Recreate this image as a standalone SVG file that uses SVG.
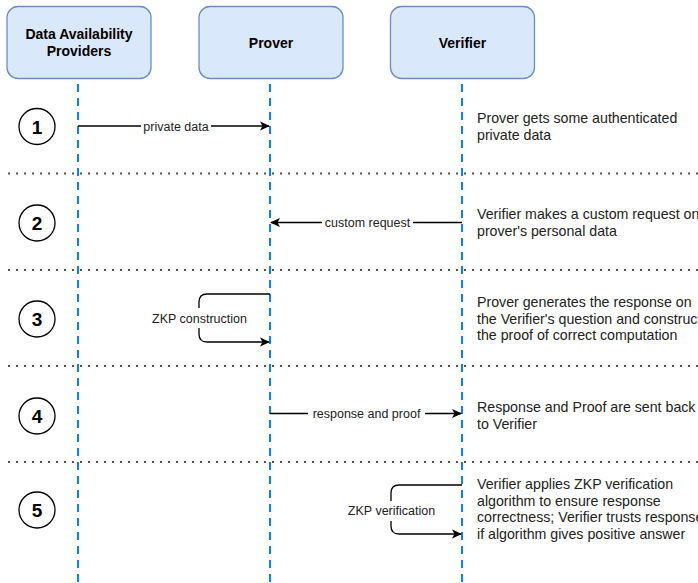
<svg xmlns="http://www.w3.org/2000/svg" width="698" height="583" viewBox="0 0 698 583">
<defs>
<marker id="ah" viewBox="0 0 10 10" refX="9" refY="5" markerWidth="10" markerHeight="10" markerUnits="userSpaceOnUse" orient="auto">
<path d="M0,0.5 L10,5 L0,9.5 L2.5,5 Z" fill="#000"/>
</marker>
</defs>
<style>
.box{fill:#dae8fc;stroke:#6c8ebf;stroke-width:1.3}
.title{font-family:"Liberation Sans",Arial,sans-serif;font-size:14px;font-weight:bold;fill:#000;text-anchor:middle}
.life{stroke:#0a80ff;stroke-width:2;stroke-dasharray:8 6;fill:none}
.sep{stroke:#555;stroke-width:2;stroke-dasharray:2 6;fill:none}
.num{fill:#fff;stroke:#000;stroke-width:1.3}
.numt{font-family:"Liberation Sans",Arial,sans-serif;font-size:19px;font-weight:bold;fill:#000;text-anchor:middle}
.msg{stroke:#000;stroke-width:1.3;fill:none;marker-end:url(#ah)}
.lbl{font-family:"Liberation Sans",Arial,sans-serif;font-size:12.5px;fill:#222;text-anchor:middle}
.lblbg{fill:#fff}
.note{font-family:"Liberation Sans",Arial,sans-serif;font-size:14.2px;fill:#222}
</style>
<rect width="698" height="583" fill="#fff"/>
<g id="separators">
<line class="sep" x1="8" y1="173.5" x2="698" y2="173.5"/>
<line class="sep" x1="8" y1="270" x2="698" y2="270"/>
<line class="sep" x1="8" y1="366" x2="698" y2="366"/>
<line class="sep" x1="8" y1="462" x2="698" y2="462"/>
</g>
<g id="lifelines">
<line class="life" x1="78" y1="84" x2="78" y2="583"/>
<line class="life" x1="270" y1="84" x2="270" y2="583"/>
<line class="life" x1="462" y1="84" x2="462" y2="583"/>
</g>
<g id="node-dap">
<rect class="box" x="7" y="6.5" width="144" height="72" rx="11"/>
<text class="title" x="79" y="38.5">Data Availability</text>
<text class="title" x="79" y="56">Providers</text>
</g>
<g id="node-prover">
<rect class="box" x="199" y="6.5" width="144" height="72" rx="11"/>
<text class="title" x="271" y="47.5">Prover</text>
</g>
<g id="node-verifier">
<rect class="box" x="390.5" y="6.5" width="144" height="72" rx="11"/>
<text class="title" x="462.5" y="47.5">Verifier</text>
</g>
<g id="step-1"><circle class="num" cx="37" cy="126.5" r="18"/><text class="numt" x="37" y="133.5">1</text></g>
<g id="step-2"><circle class="num" cx="37" cy="223" r="18"/><text class="numt" x="37" y="230">2</text></g>
<g id="step-3"><circle class="num" cx="37" cy="319" r="18"/><text class="numt" x="37" y="326">3</text></g>
<g id="step-4"><circle class="num" cx="37" cy="416" r="18"/><text class="numt" x="37" y="423">4</text></g>
<g id="step-5"><circle class="num" cx="37" cy="510" r="18"/><text class="numt" x="37" y="517">5</text></g>
<g id="connectors">
<path class="msg" d="M78,126 L269,126"/>
<rect class="lblbg" x="141" y="119" width="70" height="14"/>
<text class="lbl" x="176" y="130.5">private data</text>
<path class="msg" d="M462,222.5 L271,222.5"/>
<rect class="lblbg" x="322" y="215.5" width="91" height="14"/>
<text class="lbl" x="367.5" y="227">custom request</text>
<path class="msg" d="M270,294 L207,294 Q199,294 199,302 L199,334 Q199,342 207,342 L269,342"/>
<rect class="lblbg" x="149" y="308" width="101" height="20"/>
<text class="lbl" x="199.5" y="323">ZKP construction</text>
<path class="msg" d="M270,413.5 L461,413.5"/>
<rect class="lblbg" x="308" y="406.5" width="117" height="14"/>
<text class="lbl" x="366.5" y="418">response and proof</text>
<path class="msg" d="M462,485 L399,485 Q391,485 391,493 L391,526 Q391,534 399,534 L461,534"/>
<rect class="lblbg" x="344" y="501" width="95" height="20"/>
<text class="lbl" x="391.5" y="515">ZKP verification</text>
</g>
<g id="notes">
<text class="note" x="477" y="123">Prover gets some authenticated</text>
<text class="note" x="477" y="139.5">private data</text>
<text class="note" x="477" y="219">Verifier makes a custom request on</text>
<text class="note" x="477" y="235.5">prover's personal data</text>
<text class="note" x="477" y="307">Prover generates the response on</text>
<text class="note" x="477" y="323.5">the Verifier's question and constructs</text>
<text class="note" x="477" y="340">the proof of correct computation</text>
<text class="note" x="477" y="412">Response and Proof are sent back</text>
<text class="note" x="477" y="428.5">to Verifier</text>
<text class="note" x="477" y="489">Verifier applies ZKP verification</text>
<text class="note" x="477" y="505.5">algorithm to ensure response</text>
<text class="note" x="477" y="522">correctness; Verifier trusts response</text>
<text class="note" x="477" y="538.5">if algorithm gives positive answer</text>
</g>
</svg>
